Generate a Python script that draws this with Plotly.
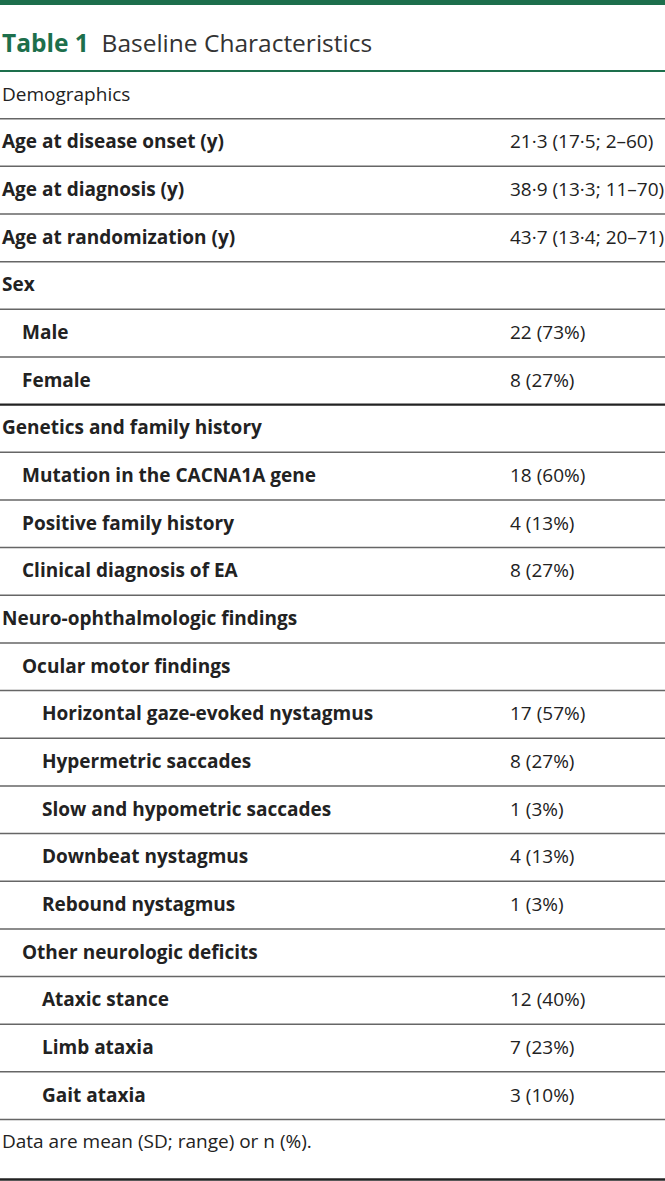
import plotly.graph_objects as go

# ---- data ----
row_labels = [
    "Demographics",
    "Age at disease onset (y)",
    "Age at diagnosis (y)",
    "Age at randomization (y)",
    "Sex",
    "Male",
    "Female",
    "Genetics and family history",
    "Mutation in the CACNA1A gene",
    "Positive family history",
    "Clinical diagnosis of EA",
    "Neuro-ophthalmologic findings",
    "Ocular motor findings",
    "Horizontal gaze-evoked nystagmus",
    "Hypermetric saccades",
    "Slow and hypometric saccades",
    "Downbeat nystagmus",
    "Rebound nystagmus",
    "Other neurologic deficits",
    "Ataxic stance",
    "Limb ataxia",
    "Gait ataxia",
]
row_values = [
    "",
    "21·3 (17·5; 2–60)",
    "38·9 (13·3; 11–70)",
    "43·7 (13·4; 20–71)",
    "",
    "22 (73%)",
    "8 (27%)",
    "",
    "18 (60%)",
    "4 (13%)",
    "8 (27%)",
    "",
    "",
    "17 (57%)",
    "8 (27%)",
    "1 (3%)",
    "4 (13%)",
    "1 (3%)",
    "",
    "12 (40%)",
    "7 (23%)",
    "3 (10%)",
]
row_levels = [0, 0, 0, 0, 0, 1, 1, 0, 1, 1, 1, 0, 1, 2, 2, 2, 2, 2, 1, 2, 2, 2]
row_bold = [False] + [True] * 21
section_end_rows = [6]  # heavy rule after "Female"

title_label = "Table 1"
title_text = "Baseline Characteristics"
footnote = "Data are mean (SD; range) or n (%)."

# ---- styling ----
W, H = 665, 1181
GREEN = "#1d6f4c"
TEXT = "#222222"
FONT = "Open Sans"
header_rule_y = 71
row_h = 47.66
indent = 20
value_x = 509
fs = 19

fig = go.Figure()
fig.update_layout(
    width=W, height=H,
    margin=dict(l=0, r=0, t=0, b=0),
    paper_bgcolor="white", plot_bgcolor="white",
    xaxis=dict(range=[0, W], visible=False, fixedrange=True),
    yaxis=dict(range=[H, 0], visible=False, fixedrange=True),
    showlegend=False,
)

shapes = []
annotations = []

# top green bar
shapes.append(dict(type="rect", xref="x", yref="y", x0=0, x1=W, y0=0, y1=5,
                   fillcolor=GREEN, line=dict(width=0)))
# title
annotations.append(dict(
    x=0, y=42, xref="x", yref="y", xanchor="left", yanchor="middle", showarrow=False,
    text=f"<span style='color:{GREEN}'><b>{title_label}</b></span>  {title_text}",
    font=dict(family=FONT, size=24.5, color="#333333"),
))
# header green rule
shapes.append(dict(type="line", xref="x", yref="y", x0=0, x1=W,
                   y0=header_rule_y, y1=header_rule_y, line=dict(color=GREEN, width=2)))

for i, (lab, val, lvl, b) in enumerate(zip(row_labels, row_values, row_levels, row_bold)):
    yc = header_rule_y + row_h * (i + 0.5) - 1
    txt = f"<b>{lab}</b>" if b else lab
    annotations.append(dict(
        x=0 + lvl * indent, y=yc, xref="x", yref="y", xanchor="left", yanchor="middle",
        showarrow=False, text=txt, font=dict(family=FONT, size=fs, color=TEXT),
    ))
    if val:
        annotations.append(dict(
            x=value_x - 1, y=yc, xref="x", yref="y", xanchor="left", yanchor="middle",
            showarrow=False, text=val, font=dict(family=FONT, size=fs, color=TEXT),
        ))
    yl = header_rule_y + row_h * (i + 1)
    if i in section_end_rows:
        line = dict(color="#222222", width=2.2)
    else:
        line = dict(color="#666666", width=1.5)
    shapes.append(dict(type="line", xref="x", yref="y", x0=0, x1=W, y0=yl, y1=yl, line=line))

# footnote
last_y = header_rule_y + row_h * len(row_labels)
annotations.append(dict(
    x=0, y=last_y + 21, xref="x", yref="y", xanchor="left", yanchor="middle",
    showarrow=False, text=footnote, font=dict(family=FONT, size=fs, color=TEXT),
))
# bottom heavy rule
shapes.append(dict(type="line", xref="x", yref="y", x0=0, x1=W, y0=1179.5, y1=1179.5,
                   line=dict(color="#222222", width=2.5)))

fig.update_layout(shapes=shapes, annotations=annotations)
fig.write_html("out.html", config={"displayModeBar": False},
               post_script="document.body.style.margin='0';document.body.style.padding='0';")
